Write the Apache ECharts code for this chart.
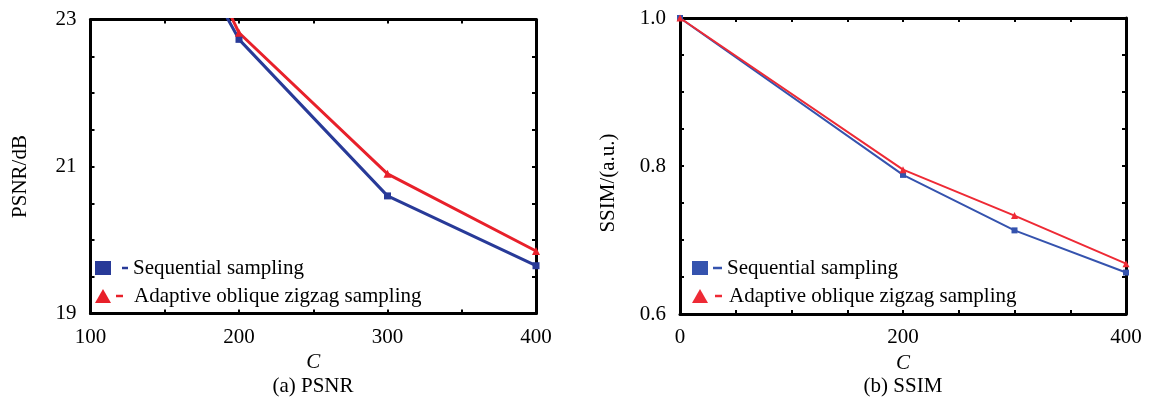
<!DOCTYPE html>
<html>
<head>
<meta charset="utf-8">
<script src="https://cdn.jsdelivr.net/npm/echarts@6/dist/echarts.min.js"></script>
<style>html,body{margin:0;padding:0;background:#fff;}#c{width:1152px;height:406px;}</style>
</head>
<body>
<div id="c"></div>
<script>
// ---- data ----
const seqName = 'Sequential sampling';
const adpName = 'Adaptive oblique zigzag sampling';
const psnrC = [100, 200, 300, 400];
const psnrSeq = [26.4, 22.73, 20.6, 19.65];
const psnrAdp = [27.0, 22.82, 20.9, 19.85];
const ssimC = [0, 200, 300, 400];
const ssimSeq = [1.0, 0.788, 0.713, 0.656];
const ssimAdp = [1.0, 0.795, 0.733, 0.668];
const psnrXTicks = [100, 200, 300, 400];
const psnrYTicks = [19, 21, 23];
const ssimXTicks = [0, 200, 400];
const ssimYTicks = [0.6, 0.8, 1.0];

const FONT = 'Liberation Serif';
const blueL = '#283A98', redL = '#E8202A';
const blueR = '#3553AE', redR = '#EE2A35';

function near(v, arr) { return arr.some(t => Math.abs(t - v) < 1e-6); }

const grids = [
  {left: 90.5, top: 19.5, width: 445.5, height: 294, outerBoundsMode: 'none'},
  {left: 680, top: 18, width: 446, height: 296, outerBoundsMode: 'none'}
];

const lineAxis = {lineStyle: {color: '#000', width: 3}, onZero: false};
const tick = {inside: true, length: 4, lineStyle: {color: '#000', width: 2}};
const lbl = {fontFamily: FONT, fontSize: 21, color: '#000'};

function mainX(grid, min, max, ticks) {
  return {type: 'value', gridIndex: grid, position: 'bottom', min, max, interval: 50,
    axisLine: lineAxis, axisTick: tick, splitLine: {show: false},
    axisLabel: Object.assign({margin: 13, formatter: v => near(v, ticks) ? String(v) : ''}, lbl),
    name: 'C', nameLocation: 'middle', nameGap: 37,
    nameTextStyle: {fontFamily: FONT, fontSize: 21, fontStyle: 'italic', color: '#000'}};
}
function mirrorX(grid, min, max) {
  return {type: 'value', gridIndex: grid, position: 'top', min, max, interval: 50,
    axisLine: lineAxis, axisTick: tick, splitLine: {show: false}, axisLabel: {show: false}};
}
function mainY(grid, min, max, interval, ticks, fmt, name, gap, pad) {
  return {type: 'value', gridIndex: grid, position: 'left', min, max, interval,
    axisLine: lineAxis, axisTick: tick, splitLine: {show: false},
    axisLabel: Object.assign({margin: 14, formatter: v => near(v, ticks) ? fmt(v) : ''}, lbl),
    name, nameLocation: 'middle', nameGap: gap, nameRotate: 90,
    nameTextStyle: {fontFamily: FONT, fontSize: 21, color: '#000', padding: pad}};
}
function mirrorY(grid, min, max, interval) {
  return {type: 'value', gridIndex: grid, position: 'right', min, max, interval,
    axisLine: lineAxis, axisTick: tick, splitLine: {show: false}, axisLabel: {show: false}};
}

function mk(name, xs, ys, xi, yi, color, symbol, size, width) {
  return {type: 'line', name, xAxisIndex: xi, yAxisIndex: yi, clip: true,
    data: xs.map((x, i) => [x, ys[i]]), symbol, symbolSize: size, showAllSymbol: true,
    lineStyle: {color, width}, itemStyle: {color}, emphasis: {disabled: true}, z: 1};
}

function legend(left, top, blue, red, g1, g2) {
  return {
    left, top, orient: 'vertical', padding: 0, itemWidth: 16, itemHeight: 14, itemGap: 6,
    selectedMode: false,
    data: [
      {name: seqName, icon: 'rect', itemStyle: {color: blue}},
      {name: adpName, icon: 'triangle', itemStyle: {color: red}}
    ],
    formatter: n => n === seqName ? '{a|}{db|}{b|}' + n : '{c|}{dr|}{d|}' + n,
    textStyle: {fontFamily: FONT, fontSize: 21, color: '#000', lineHeight: 22,
      rich: {
        a: {width: g1[0]}, db: {width: g1[1], height: 2.5, backgroundColor: blue, verticalAlign: 'middle'}, b: {width: g1[2]},
        c: {width: g2[0]}, dr: {width: g2[1], height: 2.5, backgroundColor: red, verticalAlign: 'middle'}, d: {width: g2[2]}
      }}
  };
}

const option = {
  animation: false,
  backgroundColor: '#fff',
  grid: grids,
  xAxis: [mainX(0, 100, 400, psnrXTicks), mirrorX(0, 100, 400),
          mainX(1, 0, 400, ssimXTicks), mirrorX(1, 0, 400)],
  yAxis: [mainY(0, 19, 23, 0.5, psnrYTicks, v => String(v), 'PSNR/dB', 60, [0, 20, 0, 0]),
          mirrorY(0, 19, 23, 0.5),
          mainY(1, 0.6, 1.0, 0.05, ssimYTicks, v => v.toFixed(1), 'SSIM/(a.u.)', 61, [0, 34, 0, 0]),
          mirrorY(1, 0.6, 1.0, 0.05)],
  legend: [legend(95, 257, blueL, redL, [6, 6, 5], [0, 7, 11]),
           legend(692, 257, blueR, redR, [0, 9, 5], [2, 7, 7])],
  series: [
    mk(seqName, psnrC, psnrSeq, 0, 0, blueL, 'rect', 7, 3),
    mk(adpName, psnrC, psnrAdp, 0, 0, redL, 'triangle', 8, 3),
    mk(seqName, ssimC, ssimSeq, 2, 2, blueR, 'rect', 6, 2),
    mk(adpName, ssimC, ssimAdp, 2, 2, redR, 'triangle', 7, 2)
  ],
  graphic: [
    {type: 'text', x: 313, y: 386, style: {text: '(a) PSNR', font: '21px "Liberation Serif"', fill: '#000', align: 'center', verticalAlign: 'middle'}},
    {type: 'text', x: 903, y: 386, style: {text: '(b) SSIM', font: '21px "Liberation Serif"', fill: '#000', align: 'center', verticalAlign: 'middle'}}
  ]
};

const chart = echarts.init(document.getElementById('c'), null, {renderer: 'canvas'});
chart.setOption(option);
</script>
</body>
</html>
